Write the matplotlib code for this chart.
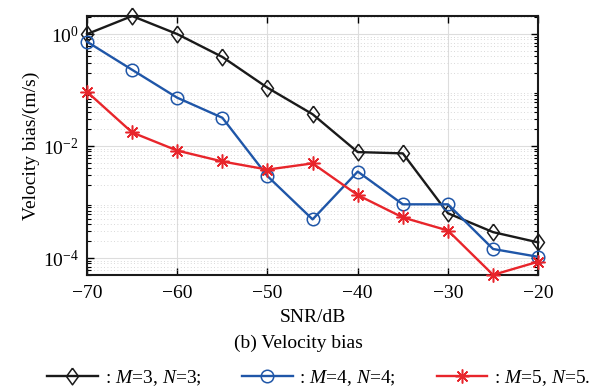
import matplotlib
matplotlib.use("Agg")
import matplotlib.pyplot as plt
from matplotlib.ticker import LogLocator, NullFormatter

plt.rcParams["font.family"] = ["Liberation Serif", "DejaVu Serif"]
plt.rcParams["mathtext.fontset"] = "custom"
plt.rcParams["mathtext.rm"] = "Liberation Serif"
plt.rcParams["mathtext.it"] = "Liberation Serif:italic"

snr = [-70, -65, -60, -55, -50, -45, -40, -35, -30, -25, -20]
bias_m3 = [1.0, 2.1, 1.0, 0.39, 0.11, 0.037, 0.0078, 0.0074, 6.3e-4, 2.9e-4, 1.9e-4]
bias_m4 = [0.73, 0.23, 0.073, 0.032, 0.0029, 4.9e-4, 0.0035, 9.1e-4, 9.1e-4, 1.45e-4, 1.05e-4]
bias_m5 = [0.093, 0.0175, 0.0083, 0.0053, 0.0038, 0.0049, 0.00133, 5.3e-4, 3.1e-4, 5.0e-5, 8.6e-5]
labels = [r": $M$=3, $N$=3;", r": $M$=4, $N$=4;", r": $M$=5, $N$=5."]

diamond = [(0, 1), (0.72, 0), (0, -1), (-0.72, 0), (0, 1)]

fig = plt.figure(figsize=(5.96, 3.91), dpi=100)
ax = fig.add_axes([0.146, 0.297, 0.757, 0.662])

ax.plot(snr, bias_m3, color="#1a1a1a", lw=1.7, marker=diamond, ms=12,
        mfc="none", mew=1.1, label=labels[0], clip_on=False, zorder=3)
ax.plot(snr, bias_m4, color="#1f56a8", lw=1.7, marker="o", ms=9,
        mfc="none", mew=1.1, label=labels[1], clip_on=False, zorder=3)
ax.plot(snr, bias_m5, color="#e8252b", lw=1.7, marker=(8, 2, 0), ms=10,
        mew=1.1, label=labels[2], clip_on=False, zorder=3)

ax.set_yscale("log")
ax.set_xlim(-70, -20)
ax.set_ylim(5e-5, 2.1)
ax.set_xticks([-70, -60, -50, -40, -30, -20])
ax.set_yticks([1e-4, 1e-2, 1e0])
ax.yaxis.set_minor_locator(LogLocator(base=10, subs=range(2, 10), numticks=20))
ax.yaxis.set_minor_formatter(NullFormatter())

ax.grid(True, which="major", color="#dddddd", lw=0.8)
ax.grid(True, which="minor", axis="y", color="#cccccc", lw=0.6, ls=(0, (1, 3)))
ax.set_axisbelow(True)

ax.tick_params(which="both", direction="in", top=True, right=True, labelsize=14)
ax.tick_params(which="major", length=5, width=1)
ax.tick_params(which="minor", length=3, width=0.8)
ax.tick_params(axis="x", pad=7)
ax.tick_params(axis="y", pad=6)
for s in ax.spines.values():
    s.set_linewidth(1.5)
    s.set_color("#1a1a1a")

ax.set_xlabel("SNR/dB", fontsize=14, labelpad=5)
ax.set_ylabel("Velocity bias/(m/s)", fontsize=14, labelpad=2)
fig.text(0.5, 0.122, "(b) Velocity bias", ha="center", va="center", fontsize=14)

fig.legend(loc="center", bbox_to_anchor=(0.535, 0.033), ncol=3, frameon=False,
           fontsize=14, handlelength=2.6, handletextpad=0.35, columnspacing=2.1)

fig.savefig("out.png", dpi=100)
